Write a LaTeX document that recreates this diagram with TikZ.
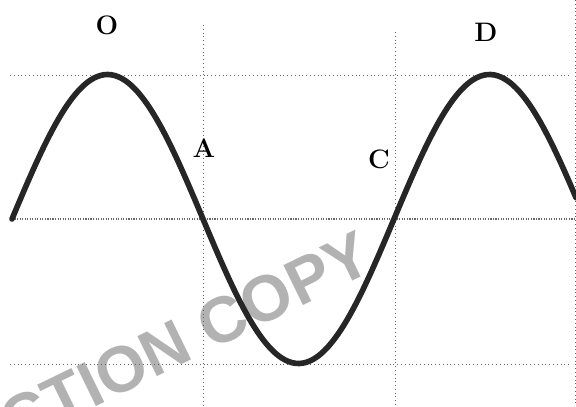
\documentclass[tikz,border=0pt]{standalone}
\usepackage{fontspec}
\newfontfamily\stampfont{Liberation Sans}
\usepackage{tikz}
\usetikzlibrary{calc}
\definecolor{gridgray}{gray}{0.4}
\definecolor{stampgray}{gray}{0.7}

\begin{document}
\begin{tikzpicture}[x=0.025cm,y=-0.025cm,
    grid/.style={draw=gridgray,line width=0.7pt,dotted},
    axis/.style={draw=gridgray,line width=0.8pt,densely dotted},
    wave/.style={draw=black!85,line width=4pt,line cap=round},
    lab/.style={font=\fontsize{19}{19}\selectfont\bfseries,inner sep=0pt}]
    \useasboundingbox (0,0) rectangle (576,406);

    % watermark, cut off at the left edge
    \begin{scope}
    \clip (0,0) rectangle (576,406);
    \node (stamp) [text=stampgray,rotate=26,inner sep=0pt,
        font=\stampfont\fontsize{46}{46}\selectfont\bfseries]
        at (186,338) {CTION COPY};
    \end{scope}

    % dotted guide lines
    \draw [grid] (10,75) -- (570,75);
    \draw [grid] (10,364) -- (570,364);
    \draw [axis] (12,219) -- (576,219);
    \draw [grid] (203,25) -- (203,406);
    \draw [grid] (395,32) -- (395,406);
    \draw [grid] (575,0) -- (575,406);

    % the wave, one period = 382
    \draw [wave] plot[domain=12:576,samples=160,smooth]
        (\x,{219-144.5*sin((\x-12)/382*360)});

    % labels
    \node (O) [lab] at (107,25) {O};
    \node (A) [lab] at (204,148) {A};
    \node (C) [lab] at (379,159) {C};
    \node (D) [lab] at (486,32) {D};
\end{tikzpicture}
\end{document}
